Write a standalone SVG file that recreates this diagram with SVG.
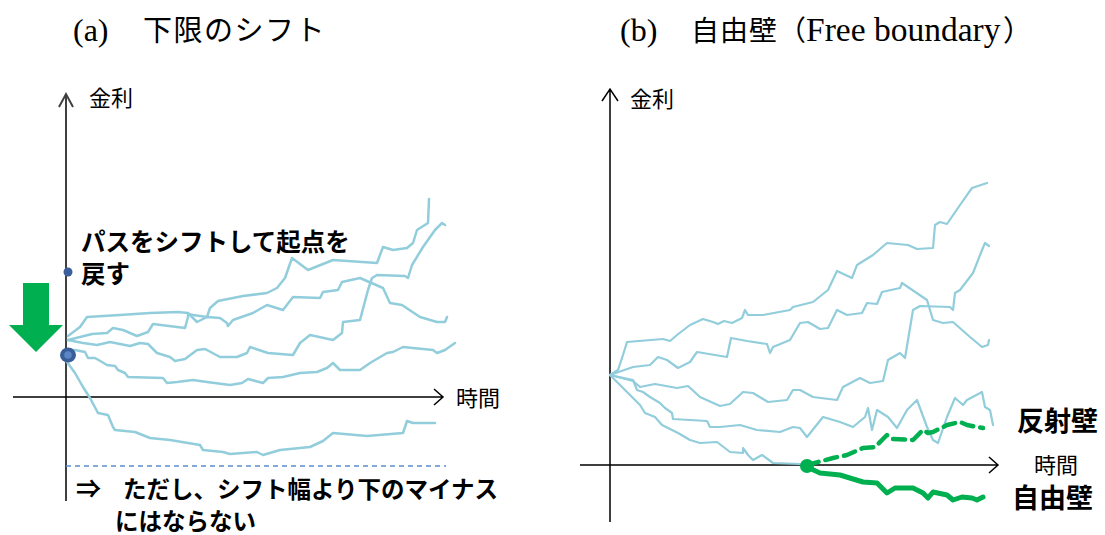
<svg xmlns="http://www.w3.org/2000/svg" width="1105" height="535" viewBox="0 0 1105 535">
<style>
.cjk{font-family:"Noto Sans CJK JP","Noto Sans CJK SC",sans-serif;fill:#000}
.ser{font-family:"Liberation Serif","Times New Roman",serif;fill:#000}
.b{font-weight:bold}
.path{fill:none;stroke:#92cddc;stroke-linejoin:round;stroke-linecap:round}
.pa{stroke-width:2.5}
.pb{stroke-width:2.2}
.axa{fill:none;stroke:#404040;stroke-width:2}
.axk{fill:none;stroke:#000;stroke-width:1.5}
.green{fill:none;stroke:#00b050;stroke-linejoin:round;stroke-linecap:round}
</style>
<rect width="1105" height="535" fill="#fff"/>

<g id="titles">
<text class="ser" x="73" y="41" font-size="32">(a)</text>
<text class="cjk" x="143" y="41" font-size="29" letter-spacing="1.5">下限のシフト</text>
<text class="ser" x="620" y="41" font-size="32">(b)</text>
<text class="cjk" x="691" y="41" font-size="28" letter-spacing="1">自由壁（</text>
<text class="ser" x="806" y="41" font-size="33.5">Free boundary</text>
<text class="cjk" x="1003" y="41" font-size="29">）</text>
</g>

<g id="panel-a-axes">
<path class="axa" d="M66,94 L66,501 M59,107 L66,94 L73,107"/>
<path class="axk" d="M13,397 L443,397 M434,389 L443,397 L434,405"/>
<line x1="66" y1="466" x2="446" y2="466" stroke="#5b8fd0" stroke-width="1.5" stroke-dasharray="5,4"/>
<text class="cjk" x="89" y="106" font-size="22">金利</text>
<text class="cjk" x="456" y="406" font-size="22">時間</text>
</g>

<g id="panel-a-paths">
<path class="path pa" d="M68,336 L80,327 L87,317 L120,315 L150,313 L178,312 L188,313 L197,322 L207,317 L220,318 L227,323 L228,326 L233,320 L253,313 L267,305 L283,310 L293,297 L320,298 L323,292 L338,290 L342,282 L360,278 L383,288 L390,303 L402,305 L420,317 L437,322 L445,322 L447,317"/>
<path class="path pa" d="M68,340 L92,334 L107,333 L113,328 L123,330 L137,336 L148,332 L153,324 L185,328 L188,317 L188,314 L193,315 L207,317 L210,308 L218,301 L243,296 L267,293 L277,288 L285,278 L292,258 L308,270 L333,260 L377,263 L383,247 L393,250 L407,248 L413,243 L417,230 L428,223 L429,199"/>
<path class="path pa" d="M68,340 L83,343 L97,345 L110,342 L130,346 L140,343 L148,344 L157,353 L170,357 L175,361 L185,359 L197,350 L205,349 L220,357 L237,357 L247,353 L250,347 L268,353 L293,355 L300,343 L310,335 L333,340 L342,333 L343,322 L360,320 L368,290 L372,278 L377,275 L405,276 L408,278 L412,265 L423,247 L435,230 L442,223 L445,225"/>
<path class="path pa" d="M67,350 L75,350 L85,352 L88,358 L95,358 L102,362 L107,365 L115,366 L118,370 L125,373 L128,377 L163,378 L167,383 L177,382 L193,380 L207,382 L230,385 L242,383 L248,379 L263,383 L268,378 L283,377 L300,373 L317,372 L327,368 L333,363 L340,370 L360,370 L370,363 L387,353 L393,352 L403,347 L433,350 L437,353 L445,350 L455,343"/>
<path class="path pa" d="M67,362 L75,373 L83,387 L90,398 L98,413 L108,415 L113,427 L115,430 L135,432 L150,438 L170,440 L200,445 L203,450 L223,452 L230,454 L257,452 L263,455 L280,450 L310,447 L323,441 L333,433 L367,436 L403,433 L407,421 L413,423 L435,423"/>
</g>

<g id="shift-arrow">
<polygon points="23,283 49,283 49,325 63,325 36,352 9,325 23,325" fill="#00b050"/>
</g>
<g id="start-dots">
<circle cx="68" cy="272" r="4.5" fill="#3c5f99"/>
<ellipse cx="68" cy="355" rx="8" ry="7.5" fill="#3a5f98"/>
<circle cx="68" cy="355" r="3.8" fill="#5b86c5"/>
</g>

<g id="panel-a-texts">
<text class="cjk b" x="81" y="251" font-size="24.5"><tspan>パスをシフトして起点を</tspan><tspan x="81" y="283">戻す</tspan></text>
<text class="cjk b" x="76" y="498" font-size="23.5"><tspan font-size="25">⇒</tspan><tspan x="123">ただし、シフト幅より下のマイナス</tspan><tspan x="115" y="530">にはならない</tspan></text>
</g>

<g id="panel-b-axes">
<path class="axk" d="M610,89 L610,522 M602,101 L610,89 L618,101"/>
<path class="axk" d="M580,465 L998,465 M989,457 L998,465 L989,473"/>
<text class="cjk" x="630" y="107" font-size="22">金利</text>
<text class="cjk" x="1034" y="473" font-size="22">時間</text>
</g>

<g id="panel-b-paths">
<path class="path pb" d="M610,375 L618,370 L623,355 L627,342 L663,339 L670,341 L677,335 L690,325 L703,319 L713,322 L718,324 L724,321 L732,323 L742,318 L745,310 L748,315 L763,315 L790,310 L793,307 L813,302 L828,290 L837,271 L852,278 L857,265 L873,255 L887,243 L908,245 L917,249 L933,248 L935,225 L940,222 L947,224 L960,205 L972,188 L987,183"/>
<path class="path pb" d="M610,375 L633,367 L650,365 L658,357 L667,360 L678,368 L690,362 L697,352 L727,357 L731,338 L747,341 L767,344 L770,353 L773,347 L790,340 L800,323 L808,322 L820,329 L828,328 L837,310 L847,315 L862,313 L867,303 L877,304 L882,292 L900,288 L902,283 L927,300 L933,320 L943,323 L953,322 L970,337 L982,347 L988,345 L989,340"/>
<path class="path pb" d="M610,375 L633,381 L640,387 L655,384 L677,388 L688,386 L700,397 L720,406 L730,404 L743,392 L753,393 L768,402 L787,400 L793,390 L800,390 L813,397 L837,400 L843,387 L860,378 L870,383 L883,381 L888,360 L900,353 L905,358 L913,310 L920,306 L950,307 L953,310 L955,293 L960,290 L973,273 L982,250 L985,243 L989,246"/>
<path class="path pb" d="M610,375 L633,380 L637,390 L643,392 L650,397 L660,403 L665,408 L672,413 L673,419 L707,421 L710,427 L720,427 L740,425 L757,430 L780,432 L793,427 L800,428 L807,437 L823,417 L840,422 L853,427 L865,417 L868,408 L872,430 L877,410 L888,417 L897,428 L907,410 L917,400 L927,427 L933,440 L938,443 L947,417 L955,398 L963,405 L967,400 L982,392 L985,407 L990,410 L993,425"/>
<path class="path pb" d="M610,375 L630,395 L640,405 L645,413 L655,417 L662,425 L678,433 L690,440 L700,443 L717,442 L730,452 L743,453 L743,448 L748,455 L753,460 L762,455 L773,463 L800,464"/>
</g>

<g id="boundary-paths">
<path class="green" stroke-width="4.5" stroke-dasharray="12,7" stroke-linecap="butt" d="M807,465 L833,458 L847,455 L863,448 L875,447 L882,440 L887,435 L893,439 L913,440 L923,430 L928,433 L933,432 L947,425 L960,422 L967,425 L983,428"/>
<path class="green" stroke-width="5" d="M807,467 L820,473 L840,475 L863,482 L877,483 L887,493 L895,488 L913,488 L923,493 L928,498 L933,492 L947,495 L953,500 L962,497 L972,498 L977,500 L983,497"/>
<circle cx="807" cy="466" r="7" fill="#00b050"/>
</g>

<g id="panel-b-texts">
<text class="cjk b" x="1017" y="431" font-size="27">反射壁</text>
<text class="cjk b" x="1012" y="508" font-size="27">自由壁</text>
</g>
</svg>
